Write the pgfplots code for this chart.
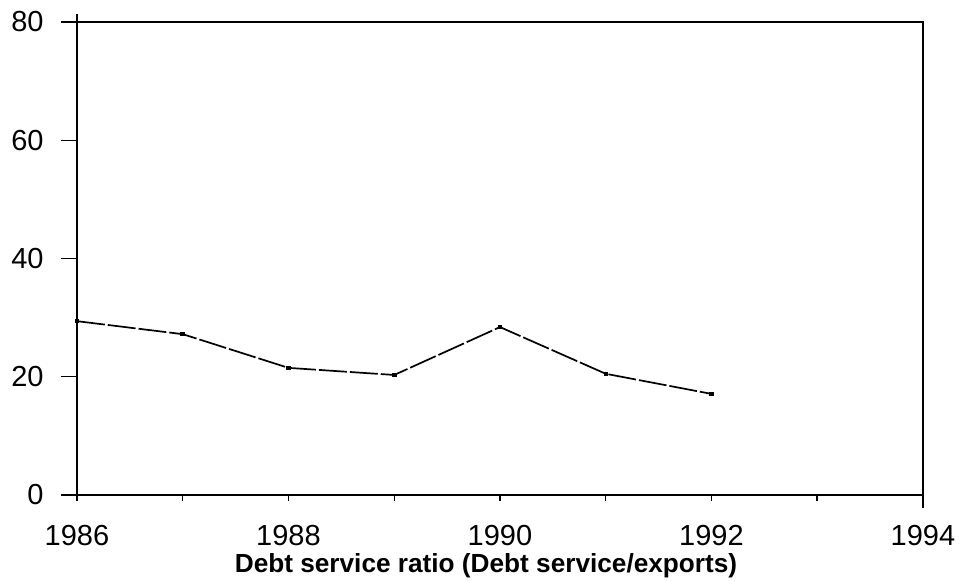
\documentclass[border=0pt]{standalone}
\usepackage{pgfplots}
\pgfplotsset{compat=1.18}
\usepackage{fontspec}
\setmainfont{Liberation Sans}

\begin{document}
\begin{tikzpicture}
\begin{axis}[
    scale only axis,
    width=423pt, height=236.5pt,
    xmin=1986, xmax=1994,
    ymin=0, ymax=80,
    xtick={1986,...,1994},
    xticklabels={1986,,1988,,1990,,1992,,1994},
    ytick={0,20,40,60,80},
    xtick pos=bottom, ytick pos=left,
    /pgf/number format/assume math mode=true,
    tick align=outside,
    major tick length=3pt,
    tick style={black, line width=0.7pt},
    axis line style={line width=0.9pt},
    ticklabel style={font=\fontsize{14.5}{16}\selectfont},
    x tick label style={anchor=center, yshift=-17.5pt},
    y tick label style={anchor=east, inner sep=0pt, xshift=-13.5pt},
    xlabel={Debt service ratio (Debt service/exports)},
    xlabel style={at={(rel axis cs:0.4835,0)}, anchor=center, yshift=-35.5pt,
                  font=\fontsize{13.1}{15}\selectfont\bfseries},
    clip=false,
]
\addplot[black, line width=0.85pt, dash pattern=on 14pt off 1.5pt,
         mark=square*, mark size=0.7pt, mark options={solid}]
  coordinates {(1986,29.4) (1987,27.2) (1988,21.5) (1989,20.3)
               (1990,28.4) (1991,20.5) (1992,17.1)};
\end{axis}
% longer y ticks, axis overhangs
\draw[line width=0.7pt] (0,0) -- (-8pt,0) (0,59.125pt) -- (-8pt,59.125pt)
  (0,118.25pt) -- (-8pt,118.25pt) (0,177.375pt) -- (-8pt,177.375pt)
  (0,236.5pt) -- (-8pt,236.5pt);
\draw[line width=0.9pt] (0,236.5pt) -- (0,240.5pt);
\draw[line width=0.9pt] (423pt,0) -- (423pt,-6.5pt);
\pgfresetboundingbox
\path (-38.5pt,-43pt) rectangle (446.5pt,247.5pt);
\end{tikzpicture}
\end{document}
